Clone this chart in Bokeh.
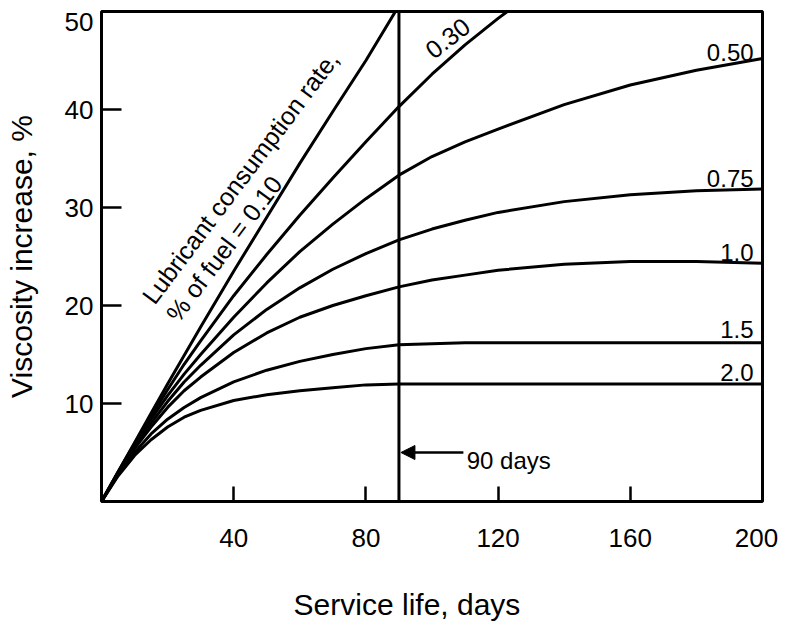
from bokeh.plotting import figure
from bokeh.models import Range1d, FixedTicker, Span, Label, Arrow, NormalHead
from bokeh.embed import file_html
from bokeh.resources import INLINE
import math

# ---- data ----
days_010 = [0, 5, 10, 15, 20, 30, 40, 50, 60, 70, 80, 90]
visc_010 = [0, 3.0, 6.0, 9.0, 12.0, 17.8, 23.5, 29.0, 34.5, 39.8, 45.0, 50.6]

days_030 = [0, 5, 10, 15, 20, 25, 30, 40, 50, 60, 70, 80, 90, 100, 110, 120, 130]
visc_030 = [0, 3.0, 5.9, 8.7, 11.4, 14.0, 16.4, 21.0, 25.2, 29.2, 33.0, 36.7, 40.3, 43.6, 46.6, 49.3, 51.8]

days_std = [0, 5, 10, 15, 20, 25, 30, 40, 50, 60, 70, 80, 90, 100, 110, 120, 140, 160, 180, 200]
visc_050 = [0, 2.9, 5.8, 8.4, 10.8, 13.0, 15.0, 18.8, 22.3, 25.5, 28.3, 30.9, 33.3, 35.2, 36.7, 38.0, 40.5, 42.5, 44.0, 45.2]
visc_075 = [0, 2.9, 5.6, 8.0, 10.2, 12.2, 13.9, 17.0, 19.6, 21.8, 23.7, 25.3, 26.7, 27.8, 28.7, 29.5, 30.6, 31.3, 31.7, 31.9]
visc_100 = [0, 2.8, 5.4, 7.6, 9.6, 11.3, 12.7, 15.2, 17.2, 18.8, 20.0, 21.0, 21.9, 22.6, 23.1, 23.6, 24.2, 24.5, 24.5, 24.3]
visc_150 = [0, 2.7, 5.0, 6.9, 8.4, 9.6, 10.6, 12.2, 13.4, 14.3, 15.0, 15.6, 16.0, 16.1, 16.2, 16.2, 16.2, 16.2, 16.2, 16.2]
visc_200 = [0, 2.6, 4.7, 6.3, 7.6, 8.6, 9.3, 10.3, 10.9, 11.3, 11.6, 11.9, 12.0, 12.0, 12.0, 12.0, 12.0, 12.0, 12.0, 12.0]

x_ticks = [40, 80, 120, 160, 200]
y_ticks = [10, 20, 30, 40, 50]
marker_day = 90

right_labels = ["0.50", "0.75", "1.0", "1.5", "2.0"]
right_label_y = [45.8, 33.0, 25.4, 17.6, 13.2]

FONT = "Liberation Sans"

p = figure(width=788, height=634, x_range=Range1d(0, 200), y_range=Range1d(0, 50),
           output_backend="svg", toolbar_location=None,
           min_border_left=101, min_border_right=26, min_border_top=11, min_border_bottom=133)
p.title.visible = False
p.background_fill_color = "white"
p.border_fill_color = "white"
p.outline_line_color = "black"
p.outline_line_width = 3
p.xgrid.visible = False
p.ygrid.visible = False

# label positions: the end labels (50 and 200) sit slightly inside, as in the reference
x_label_pos = x_ticks[:-1] + [x_ticks[-1] - 1.8]
y_label_pos = y_ticks[:-1] + [y_ticks[-1] - 1.1]

for ax in (p.xaxis[0], p.yaxis[0]):
    ax.axis_line_color = None
    ax.major_tick_line_color = None
    ax.minor_tick_out = 0
    ax.minor_tick_line_color = "black"
    ax.minor_tick_line_width = 2.5
    ax.major_label_text_font = FONT
    ax.major_label_text_font_size = "26px"
    ax.major_label_text_color = "black"
    ax.axis_label_text_font = FONT
    ax.axis_label_text_font_size = "30px"
    ax.axis_label_text_font_style = "normal"
    ax.axis_label_text_color = "black"

p.xaxis.ticker = FixedTicker(ticks=x_label_pos, minor_ticks=x_ticks)
p.yaxis.ticker = FixedTicker(ticks=y_label_pos, minor_ticks=y_ticks)
p.xaxis.major_label_overrides = {x_label_pos[-1]: str(x_ticks[-1])}
p.yaxis.major_label_overrides = {y_label_pos[-1]: str(y_ticks[-1])}
p.xaxis.minor_tick_in = 15
p.yaxis.minor_tick_in = 20
p.xaxis.major_tick_in = 0
p.yaxis.major_tick_in = 0
p.xaxis.major_tick_out = 0
p.yaxis.major_tick_out = 0
p.xaxis.major_label_standoff = 27
p.yaxis.major_label_standoff = 8

p.yaxis.axis_label = "Viscosity increase, %"
p.yaxis.axis_label_standoff = 24

# x title: trailing no-break spaces shift the centred text left, as in the reference
p.xaxis.axis_label = "Service life, days" + "\u00a0" * 6
p.xaxis.axis_label_standoff = 38

# curves
lw = 3
p.line(days_010, visc_010, line_color="black", line_width=lw)
p.line(days_030, visc_030, line_color="black", line_width=lw)
for v in (visc_050, visc_075, visc_100, visc_150, visc_200):
    p.line(days_std, v, line_color="black", line_width=lw)

# 90-day line
p.add_layout(Span(location=marker_day, dimension="height", line_color="black", line_width=3))

# arrow + label
p.add_layout(Arrow(end=NormalHead(size=14, fill_color="black", line_color="black"),
                   x_start=109.5, y_start=5.0, x_end=marker_day + 0.6, y_end=5.0,
                   line_color="black", line_width=2.5))
p.add_layout(Label(x=110.5, y=4.2, text="90 days", text_font=FONT, text_font_size="24px",
                   text_color="black", text_baseline="alphabetic", text_align="left"))

# right labels
for t, yv in zip(right_labels, right_label_y):
    p.add_layout(Label(x=197.3, y=yv, text=t, text_font=FONT, text_font_size="24px",
                       text_color="black", text_align="right", text_baseline="alphabetic"))

# 0.30 label (rotated)
p.add_layout(Label(x=104.7, y=47.3, text="0.30", text_font=FONT, text_font_size="25px",
                   text_color="black", text_align="center", text_baseline="middle",
                   angle=math.radians(38)))

# rotated legend of the 0.10 curve
ang = math.radians(53)
p.add_layout(Label(x=13.9, y=20.5, text="Lubricant consumption rate,", text_font=FONT,
                   text_font_size="25px", text_color="black", text_align="left",
                   text_baseline="alphabetic", angle=ang))
p.add_layout(Label(x=21.2, y=18.7, text="% of fuel = 0.10", text_font=FONT,
                   text_font_size="25px", text_color="black", text_align="left",
                   text_baseline="alphabetic", angle=ang))

open("out.html", "w").write(file_html(p, INLINE))
